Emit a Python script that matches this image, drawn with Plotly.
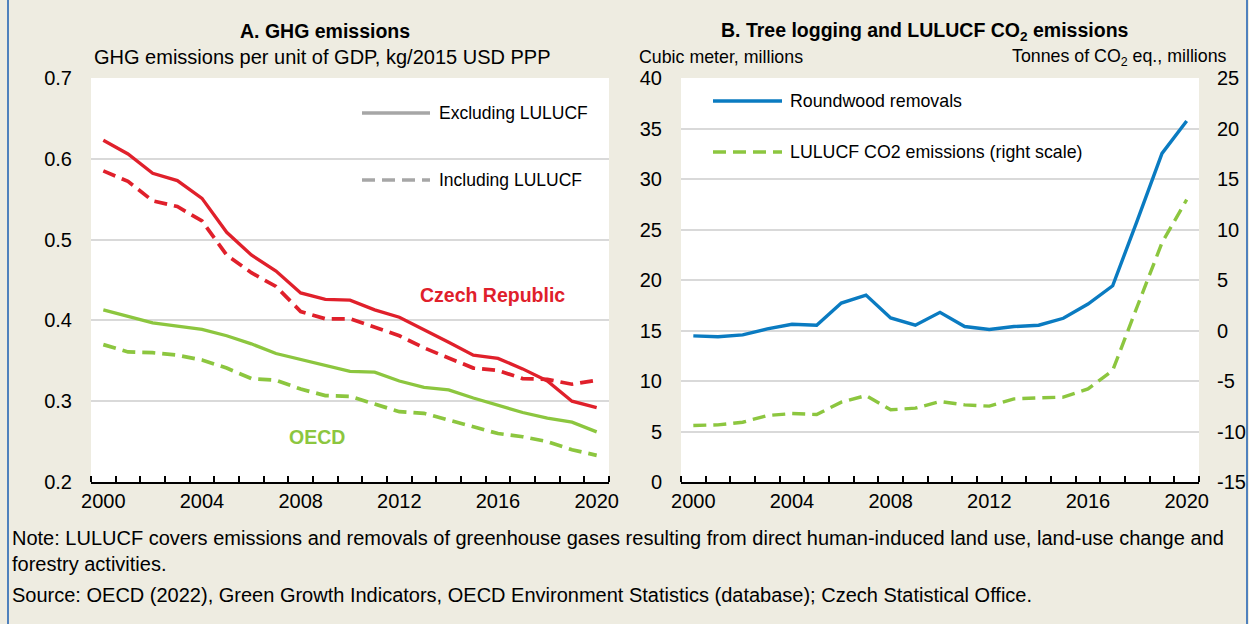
import plotly.graph_objects as go

W, H = 1249, 624
years = list(range(2000, 2021))

cz_excl = [0.623, 0.606, 0.582, 0.573, 0.551, 0.509, 0.481, 0.461, 0.434, 0.426, 0.425,
           0.413, 0.404, 0.389, 0.373, 0.357, 0.353, 0.340, 0.325, 0.300, 0.292]
cz_incl = [0.585, 0.572, 0.548, 0.541, 0.523, 0.481, 0.459, 0.442, 0.411, 0.402, 0.402,
           0.391, 0.381, 0.366, 0.354, 0.341, 0.338, 0.328, 0.327, 0.321, 0.326]
oecd_excl = [0.413, 0.405, 0.397, 0.393, 0.389, 0.381, 0.371, 0.359, 0.352, 0.344, 0.337,
             0.336, 0.325, 0.317, 0.314, 0.304, 0.295, 0.286, 0.279, 0.274, 0.262]
oecd_incl = [0.370, 0.361, 0.360, 0.357, 0.351, 0.341, 0.328, 0.326, 0.315, 0.307, 0.306,
             0.296, 0.287, 0.285, 0.277, 0.269, 0.260, 0.256, 0.250, 0.240, 0.233]
roundwood = [14.47, 14.38, 14.57, 15.16, 15.62, 15.52, 17.72, 18.51, 16.25, 15.52, 16.80,
             15.39, 15.10, 15.39, 15.52, 16.21, 17.62, 19.43, 25.9, 32.54, 35.75]
lulucf_co2 = [-9.41, -9.34, -9.08, -8.42, -8.22, -8.32, -7.10, -6.44, -7.85, -7.69, -7.03,
              -7.36, -7.49, -6.77, -6.67, -6.60, -5.78, -3.96, 2.4, 8.69, 12.95]
xtick_years = [2000, 2004, 2008, 2012, 2016, 2020]
right_ticks = [-15, -10, -5, 0, 5, 10, 15, 20, 25]
right_ticktext = ["-15", "-10", "-5", "0", "5", "10", "15", "20", "25"]

RED = "#E0202B"
GREEN = "#8CC63F"
BLUE = "#0A7BC1"
GRAY = "#A6A6A6"
BG = "#EEECE1"
FONT = "Liberation Sans Narrow, Arial Narrow, Arial, sans-serif"
DASH = "13px,7px"


def px(x):
    return x / W


def py(y):
    return 1 - y / H


fig = go.Figure()

fig.add_trace(go.Scatter(x=years, y=cz_excl, mode="lines", line=dict(color=RED, width=3.3),
                         xaxis="x", yaxis="y", showlegend=False))
fig.add_trace(go.Scatter(x=years, y=cz_incl, mode="lines",
                         line=dict(color=RED, width=3.7, dash=DASH),
                         xaxis="x", yaxis="y", showlegend=False))
fig.add_trace(go.Scatter(x=years, y=oecd_excl, mode="lines", line=dict(color=GREEN, width=3.3),
                         xaxis="x", yaxis="y", showlegend=False))
fig.add_trace(go.Scatter(x=years, y=oecd_incl, mode="lines",
                         line=dict(color=GREEN, width=3.7, dash=DASH),
                         xaxis="x", yaxis="y", showlegend=False))
fig.add_trace(go.Scatter(x=years, y=roundwood, mode="lines", line=dict(color=BLUE, width=3.4),
                         xaxis="x2", yaxis="y2", showlegend=False))
fig.add_trace(go.Scatter(x=years, y=lulucf_co2, mode="lines",
                         line=dict(color=GREEN, width=3.4, dash=DASH),
                         xaxis="x2", yaxis="y3", showlegend=False))

ydom = [py(482), py(78)]
xdomA = [px(91), px(609)]
xdomB = [px(681), px(1199)]

xcommon = dict(range=[1999.5, 2020.5], tickmode="array", tickvals=xtick_years,
               ticks="", showgrid=False, zeroline=False, showline=True,
               linecolor="black", linewidth=1.6, automargin=False,
               tickfont=dict(family=FONT, size=20, color="black"),
               minor=dict(tickmode="linear", tick0=1999.5, dtick=1, ticks="inside",
                          ticklen=6, tickcolor="black", tickwidth=1.6, showgrid=False))
yfont = dict(family=FONT, size=20, color="black")

fig.update_layout(
    width=W, height=H,
    margin=dict(l=0, r=0, t=0, b=0, pad=0, autoexpand=False),
    paper_bgcolor=BG, plot_bgcolor="white",
    font=dict(family=FONT, size=20, color="black"),
    xaxis=dict(xcommon, domain=xdomA, anchor="y"),
    xaxis2=dict(xcommon, domain=xdomB, anchor="y2"),
    yaxis=dict(domain=ydom, range=[0.2, 0.7], dtick=0.1, tickformat=".1f",
               showgrid=True, gridcolor="#D9D9D9", gridwidth=2, zeroline=False,
               showline=False, ticks="", ticklabelstandoff=18, tickfont=yfont,
               anchor="x", automargin=False),
    yaxis2=dict(domain=ydom, range=[0, 40], dtick=5, showgrid=True, gridcolor="#D9D9D9",
                gridwidth=2, zeroline=False, showline=False, ticks="",
                ticklabelstandoff=18, tickfont=yfont, anchor="x2", automargin=False),
    yaxis3=dict(range=[-15, 25], tickmode="array", tickvals=right_ticks,
                ticktext=right_ticktext, overlaying="y2", side="right", anchor="x2",
                showgrid=False, zeroline=False, showline=False, ticks="",
                ticklabelstandoff=17, tickfont=yfont, automargin=False),
)

shapes = []
# side borders
shapes.append(dict(type="line", xref="paper", yref="paper", x0=px(8), x1=px(8), y0=0, y1=1,
                   line=dict(color="#4F81BD", width=2)))
shapes.append(dict(type="line", xref="paper", yref="paper", x0=px(1247), x1=px(1247), y0=0, y1=1,
                   line=dict(color="#4F81BD", width=2)))
# legend keys
shapes.append(dict(type="line", xref="paper", yref="paper", x0=px(362), x1=px(430),
                   y0=py(113), y1=py(113), line=dict(color=GRAY, width=3.3)))
shapes.append(dict(type="line", xref="paper", yref="paper", x0=px(362), x1=px(430),
                   y0=py(180), y1=py(180), line=dict(color=GRAY, width=3.7, dash=DASH)))
shapes.append(dict(type="line", xref="paper", yref="paper", x0=px(713), x1=px(782),
                   y0=py(101), y1=py(101), line=dict(color=BLUE, width=3.4)))
shapes.append(dict(type="line", xref="paper", yref="paper", x0=px(713), x1=px(782),
                   y0=py(152), y1=py(152), line=dict(color=GREEN, width=3.4, dash=DASH)))
fig.update_layout(shapes=shapes)


def ann(text, x, y, xanchor="left", size=20, color="black"):
    fig.add_annotation(text=text, x=px(x), y=py(y), xref="paper", yref="paper",
                       xanchor=xanchor, yanchor="middle", showarrow=False,
                       font=dict(family=FONT, size=size, color=color))


ann("<b>A. GHG emissions</b>", 325, 31, "center", 19.5)
ann("GHG emissions per unit of GDP, kg/2015 USD PPP", 322, 57, "center", 20)
ann("<b>B. Tree logging and LULUCF CO<sub>2</sub> emissions</b>", 925, 31, "center", 19.5)
ann("Cubic meter, millions", 637, 57, "left", 17.8)
ann("Tonnes of CO<sub>2</sub> eq., millions", 1229, 57, "right", 17.8)
ann("Excluding LULUCF", 437, 113, "left", 17.5)
ann("Including LULUCF", 437, 180, "left", 17.5)
ann("Roundwood removals", 788, 101, "left", 17.8)
ann("LULUCF CO2 emissions (right scale)", 788, 152, "left", 17.8)
ann("<b>Czech Republic</b>", 492, 295, "center", 19.5, RED)
ann("<b>OECD</b>", 317, 437, "center", 19.5, GREEN)
ann("Note: LULUCF covers emissions and removals of greenhouse gases resulting from direct human-induced land use, land-use change and",
    10, 538, "left", 20)
ann("forestry activities.", 10, 564, "left", 20)
ann("Source: OECD (2022), Green Growth Indicators, OECD Environment Statistics (database); Czech Statistical Office.",
    10, 595, "left", 20)

fig.write_html("out.html", config={"displayModeBar": False},
               post_script="document.body.style.margin='0px';document.body.style.overflow='hidden';")
